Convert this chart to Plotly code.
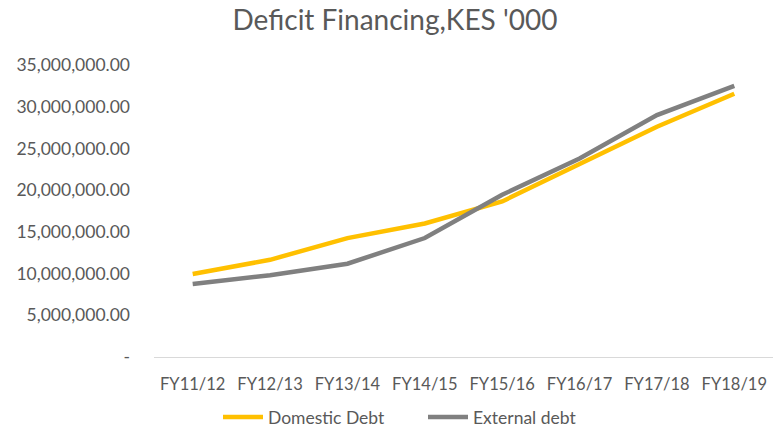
import plotly.graph_objects as go

categories = ["FY11/12", "FY12/13", "FY13/14", "FY14/15", "FY15/16", "FY16/17", "FY17/18", "FY18/19"]
domestic_debt = [9950000, 11650000, 14250000, 16000000, 18650000, 23100000, 27600000, 31550000]
external_debt = [8750000, 9800000, 11180000, 14260000, 19440000, 23800000, 29000000, 32500000]
y_tickvals = [0, 5000000, 10000000, 15000000, 20000000, 25000000, 30000000, 35000000]
y_ticktext = ["-", "5,000,000.00", "10,000,000.00", "15,000,000.00", "20,000,000.00",
              "25,000,000.00", "30,000,000.00", "35,000,000.00"]

font_family = "Lato, 'Open Sans', sans-serif"
grey_text = "#595959"

fig = go.Figure()
fig.add_trace(go.Scatter(x=categories, y=domestic_debt, mode="lines", name="Domestic Debt",
                         line=dict(color="#FFC000", width=4.5)))
fig.add_trace(go.Scatter(x=categories, y=external_debt, mode="lines", name="External debt",
                         line=dict(color="#808080", width=4.5)))

fig.update_layout(
    width=779, height=435,
    margin=dict(l=154, r=6, t=65, b=78),
    paper_bgcolor="white", plot_bgcolor="white",
    title=dict(text="Deficit Financing,KES '000", x=0.507, xanchor="center", y=0.953, yanchor="middle",
               font=dict(family=font_family, size=28, color=grey_text)),
    font=dict(family=font_family, size=17, color=grey_text),
    showlegend=True,
    legend=dict(orientation="h", x=218 / 779, xanchor="left", xref="container",
                y=0.0, yanchor="bottom", yref="container",
                font=dict(family=font_family, size=17.5, color=grey_text), itemwidth=40,
                entrywidth=150, entrywidthmode="pixels", tracegroupgap=0),
    xaxis=dict(type="category", showgrid=False, showline=True, linecolor="#D9D9D9", linewidth=1,
               ticks="", ticklabelstandoff=12, tickfont=dict(size=16.5, color=grey_text),
               range=[-0.5, 7.5], fixedrange=True),
    yaxis=dict(range=[0, 35000000], tickvals=y_tickvals, ticktext=y_ticktext, showgrid=False,
               zeroline=False, showline=False, ticks="", ticklabelstandoff=23,
               tickfont=dict(size=17.5, color=grey_text)),
)

fig.write_html("out.html")
